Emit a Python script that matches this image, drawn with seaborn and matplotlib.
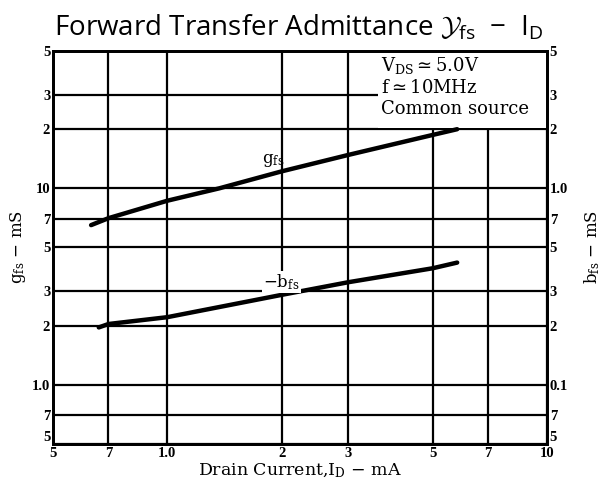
import numpy as np
import pandas as pd
import matplotlib
matplotlib.use("Agg")
import matplotlib.pyplot as plt
from matplotlib.patches import Rectangle
import seaborn as sns

# drain current (mA) and g_fs (mS)
id_gfs = [0.63, 0.70, 1.0, 1.37, 2.0, 3.0, 5.0, 5.8]
gfs = [6.5, 7.05, 8.65, 10.0, 12.2, 14.8, 18.7, 20.0]

# drain current (mA) and -b_fs (mS), right axis
id_bfs = [0.66, 0.70, 1.0, 2.0, 3.0, 5.0, 5.8]
bfs = [0.196, 0.204, 0.221, 0.287, 0.333, 0.392, 0.419]

x_ticks = [0.5, 0.7, 1.0, 2, 3, 5, 7, 10]
x_labels = ["5", "7", "1.0", "2", "3", "5", "7", "10"]
yl_ticks = [0.5, 0.7, 1.0, 2, 3, 5, 7, 10, 20, 30, 50]
yl_labels = ["5", "7", "1.0", "2", "3", "5", "7", "10", "2", "3", "5"]
yr_ticks = [0.05, 0.07, 0.1, 0.2, 0.3, 0.5, 0.7, 1.0, 2, 3, 5]
yr_labels = ["5", "7", "0.1", "2", "3", "5", "7", "1.0", "2", "3", "5"]

df_g = pd.DataFrame({"id": id_gfs, "val": gfs})
df_b = pd.DataFrame({"id": id_bfs, "val": bfs})

sns.set_theme(style="white")
plt.rcParams["text.color"] = "black"
plt.rcParams["axes.labelcolor"] = "black"
plt.rcParams["xtick.color"] = "black"
plt.rcParams["ytick.color"] = "black"
plt.rcParams["mathtext.fontset"] = "custom"
plt.rcParams["mathtext.rm"] = "Open Sans"
plt.rcParams["mathtext.cal"] = "cmsy10"

fig = plt.figure(figsize=(6.01, 4.90), dpi=100)
ax = fig.add_axes([53/601, 46/490, 494/601, 393/490])

sns.lineplot(data=df_g, x="id", y="val", ax=ax, color="black", lw=3.2)
ax.set_xscale("log")
ax.set_yscale("log")
ax.set_xlim(0.5, 10)
ax.set_ylim(0.5, 50)
ax.set_xticks(x_ticks)
ax.set_xticklabels(x_labels)
ax.set_yticks(yl_ticks)
ax.set_yticklabels(yl_labels)
ax.minorticks_off()
ax.grid(True, color="black", lw=1.6)
ax.set_axisbelow(True)
ax.tick_params(length=0, pad=2)
for t in ax.get_xticklabels() + ax.get_yticklabels():
    t.set_fontfamily("Liberation Serif")
    t.set_fontweight("bold")
    t.set_fontsize(10.5)
ax.get_yticklabels()[0].set_va("bottom")
for s in ax.spines.values():
    s.set_color("black")
    s.set_linewidth(2)

ax.set_xlabel("Drain Current,I$_{\\rm D}$ $-$ mA", fontfamily="DejaVu Serif",
              fontsize=12.5, labelpad=1, math_fontfamily="dejavuserif")
ax.set_ylabel("g$_{\\rm fs}$ $-$ mS", fontfamily="DejaVu Serif",
              fontsize=12, labelpad=3, math_fontfamily="dejavuserif")

# white box behind the conditions text
ax.add_patch(Rectangle((0.658, 0.804), 0.342, 0.196, transform=ax.transAxes,
                       facecolor="white", edgecolor="none", zorder=1.8))
ax.text(0.664, 0.99, "V$_{\\rm DS}$$\\simeq$5.0V\nf$\\simeq$10MHz\nCommon source",
        transform=ax.transAxes, ha="left", va="top", fontsize=13,
        fontfamily="DejaVu Serif", linespacing=1.22, zorder=3,
        math_fontfamily="dejavuserif")

ax.text(1.9, 13.9, "g$_{\\rm fs}$", fontsize=12, fontfamily="DejaVu Serif",
        ha="center", va="center", math_fontfamily="dejavuserif")

ax2 = ax.twinx()
sns.lineplot(data=df_b, x="id", y="val", ax=ax2, color="black", lw=3.2)
ax2.set_yscale("log")
ax2.set_ylim(0.05, 5)
ax2.set_yticks(yr_ticks)
ax2.set_yticklabels(yr_labels)
ax2.minorticks_off()
ax2.tick_params(length=0, pad=2)
for t in ax2.get_yticklabels():
    t.set_fontfamily("Liberation Serif")
    t.set_fontweight("bold")
    t.set_fontsize(10.5)
ax2.get_yticklabels()[0].set_va("bottom")
for s in ax2.spines.values():
    s.set_color("black")
    s.set_linewidth(2)
ax2.set_ylabel("b$_{\\rm fs}$ $-$ mS", fontfamily="DejaVu Serif", fontsize=12,
               labelpad=10, math_fontfamily="dejavuserif")
ax2.text(2.0, 0.333, "$-$b$_{\\rm fs}$", fontsize=12, fontfamily="DejaVu Serif",
         ha="center", va="center", math_fontfamily="dejavuserif",
         bbox=dict(facecolor="white", edgecolor="none", pad=1))

fig.suptitle("Forward Transfer Admittance $\\mathcal{Y}_{\\rm fs}$  $-$  I$_{\\rm D}$",
             x=0.497, y=0.975, fontsize=20, fontfamily="Open Sans",
             color="black", math_fontfamily="custom")

fig.savefig("out.png", dpi=100)
